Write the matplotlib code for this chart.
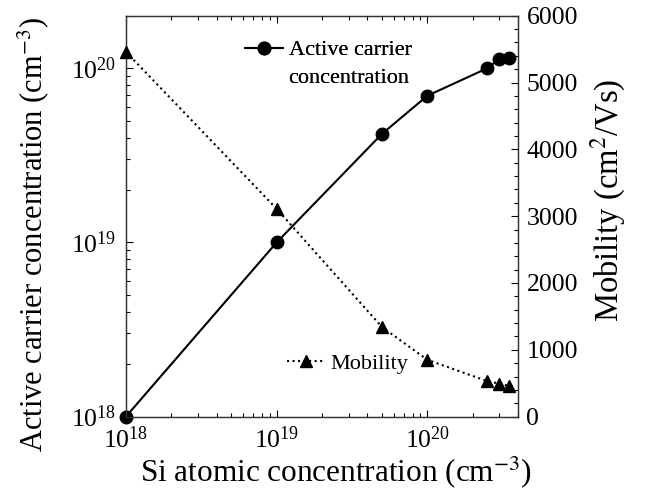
import matplotlib.pyplot as plt
from matplotlib.lines import Line2D
from matplotlib.ticker import LogLocator, MultipleLocator, NullFormatter

plt.rcParams['font.family'] = ['Liberation Serif', 'DejaVu Serif']
plt.rcParams['mathtext.fontset'] = 'stix'

# Si atomic concentration (cm^-3)
si_conc = [1e18, 1e19, 5e19, 1e20, 2.5e20, 3e20, 3.5e20]
# active carrier concentration (cm^-3)
carrier = [1e18, 1e19, 4.2e19, 6.95e19, 1.0e20, 1.13e20, 1.15e20]
# mobility (cm^2/Vs)
mobility = [5460, 3110, 1340, 850, 530, 495, 455]

fig = plt.figure(figsize=(6.46, 4.93), dpi=100)
ax = fig.add_axes([0.195, 0.155, 0.607, 0.813])
ax2 = ax.twinx()

l1, = ax.plot(si_conc, carrier, 'k-', marker='o', ms=9, lw=1.5,
              clip_on=False, zorder=5)
l2, = ax2.plot(si_conc, mobility, 'k:', marker='^', ms=9, lw=1.5,
               clip_on=False, zorder=5)

ax.set_xscale('log')
ax.set_yscale('log')
ax.set_xlim(1e18, 4e20)
ax.set_ylim(1e18, 2e20)
ax2.set_ylim(0, 6000)

ax.xaxis.set_major_locator(LogLocator(base=10, numticks=10))
ax.xaxis.set_minor_locator(LogLocator(base=10, subs=range(2, 10), numticks=20))
ax.xaxis.set_minor_formatter(NullFormatter())
ax.yaxis.set_minor_locator(LogLocator(base=10, subs=range(2, 10), numticks=20))
ax.yaxis.set_minor_formatter(NullFormatter())
ax2.yaxis.set_major_locator(MultipleLocator(1000))
ax2.yaxis.set_minor_locator(MultipleLocator(200))

for a in (ax, ax2):
    a.tick_params(which='both', direction='in', labelsize=18.5, width=0.8)
    a.tick_params(which='major', length=5)
    a.tick_params(which='minor', length=3)
    for s in a.spines.values():
        s.set_linewidth(0.9)
        s.set_color('#333333')
ax.tick_params(which='both', top=True, right=False)
ax.tick_params(axis='x', pad=7)
ax.tick_params(axis='y', pad=7)
ax2.tick_params(axis='y', pad=6)

ax.set_xlabel('Si atomic concentration (cm$^{-3}$)', fontsize=22.5)
ax.xaxis.set_label_coords(0.535, -0.095)
ax.set_ylabel('Active carrier concentration (cm$^{-3}$)', fontsize=22)
ax.yaxis.set_label_coords(-0.19, 0.455)
ax2.set_ylabel('Mobility (cm$^{2}$/Vs)', fontsize=23.5)
ax2.yaxis.set_label_coords(1.18, 0.54)

# legend for carrier: handle sits beside the first line only
blank = Line2D([], [], linestyle='none')
leg1 = ax.legend(handles=[l1, blank], labels=['Active carrier', 'concentration'],
                 loc='upper left', bbox_to_anchor=(0.304, 0.94),
                 frameon=False, fontsize=16, handlelength=1.7, handletextpad=0.25,
                 borderaxespad=0, borderpad=0, labelspacing=0.3)
ax.add_artist(leg1)
leg2 = ax2.legend(handles=[l2], labels=['Mobility'], loc='center left',
                  bbox_to_anchor=(0.41, 0.133),
                  frameon=False, fontsize=16, handlelength=1.7, handletextpad=0.25,
                  borderaxespad=0, borderpad=0)

fig.savefig('out.png', dpi=100)
